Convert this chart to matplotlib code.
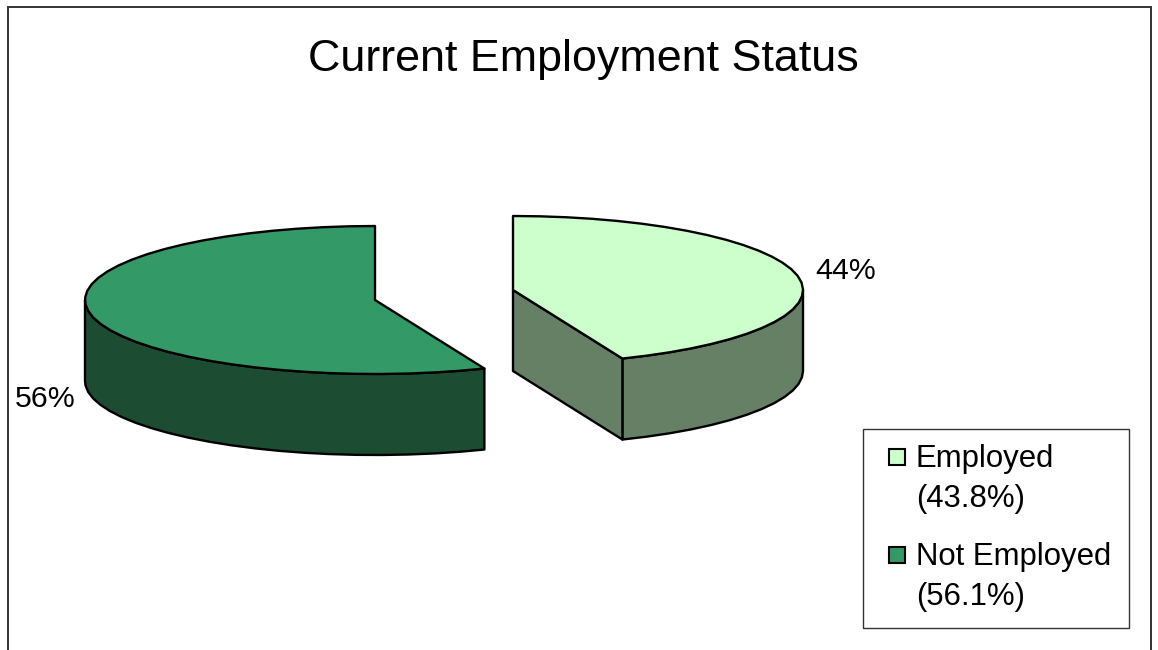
import numpy as np
import matplotlib
matplotlib.use('Agg')
import matplotlib.pyplot as plt
from matplotlib.patches import Rectangle

plt.rcParams['font.family'] = ['Liberation Sans', 'DejaVu Sans']

title = 'Current Employment Status'
categories = ['Employed', 'Not Employed']
values = [43.8, 56.1]
pct_labels = ['44%', '56%']
legend_labels = ['Employed\n(43.8%)', 'Not Employed\n(56.1%)']
top_colors = ['#CCFFCC', '#339966']
side_colors = ['#668066', '#1C4D33']

W, H = 1158, 650
fig = plt.figure(figsize=(W / 100, H / 100), dpi=100)
ax = fig.add_axes([0, 0, 1, 1])
ax.set_xlim(0, W)
ax.set_ylim(H, 0)
ax.axis('off')

RX, RY, DEPTH = 290, 74, 81
LW = 1.7


def ell(cx, cy, a):
    # a = clockwise from 12 o'clock, radians
    return cx + RX * np.sin(a), cy - RY * np.cos(a)


def wedge(cx, cy, a0, a1, top, side):
    # coarse steps, the outline in the original is a bit angular too
    n = max(int(np.degrees(a1 - a0) / 5), 2)
    t = np.linspace(a0, a1, n)
    x, y = ell(cx, cy, t)
    # rim, only the part facing the viewer
    front = t[(np.cos(t) <= 0)]
    if len(front):
        if a0 < np.pi / 2 < a1:
            front = np.r_[np.pi / 2, front]
        if a0 < 1.5 * np.pi < a1:
            front = np.r_[front, 1.5 * np.pi]
        fx, fy = ell(cx, cy, front)
        ax.fill(np.r_[fx, fx[::-1]], np.r_[fy, fy[::-1] + DEPTH], fc=side, ec='k', lw=LW, joinstyle='round')
    # cut face, only when it turns to the viewer
    if a1 < np.pi:
        ex, ey = ell(cx, cy, a1)
        ax.fill([cx, ex, ex, cx], [cy, ey, ey + DEPTH, cy + DEPTH], fc=side, ec='k', lw=LW, joinstyle='round')
    ax.fill(np.r_[cx, x], np.r_[cy, y], fc=top, ec='k', lw=LW, joinstyle='round')


total = sum(values)
sweep = 2 * np.pi * values[0] / total

wedge(375, 300, sweep, 2 * np.pi, top_colors[1], side_colors[1])
wedge(513, 290, 0, sweep, top_colors[0], side_colors[0])

ax.text(815, 271, pct_labels[0], fontsize=21.8, va='center', ha='left', color='k')
ax.text(15, 399, pct_labels[1], fontsize=21.8, va='center', ha='left', color='k')
ax.text(583, 60, title, fontsize=32.3, va='center', ha='center', color='k')

# frame
ax.plot([7.5, 7.5, 1150.5, 1150.5], [H, 6.5, 6.5, H], color='#333333', lw=1.4, solid_joinstyle='miter')

# legend
ax.add_patch(Rectangle((863, 429), 266, 199, fc='white', ec='#333333', lw=1))
for i, lab in enumerate(legend_labels):
    yy = 457 + i * 98
    ax.add_patch(Rectangle((889, yy - 8), 16, 16, fc=top_colors[i], ec='k', lw=1.5))
    ax.text(916, yy - 13, lab, fontsize=22.4, va='top', ha='left', color='k', linespacing=1.43)

fig.savefig('out.png', dpi=100)
